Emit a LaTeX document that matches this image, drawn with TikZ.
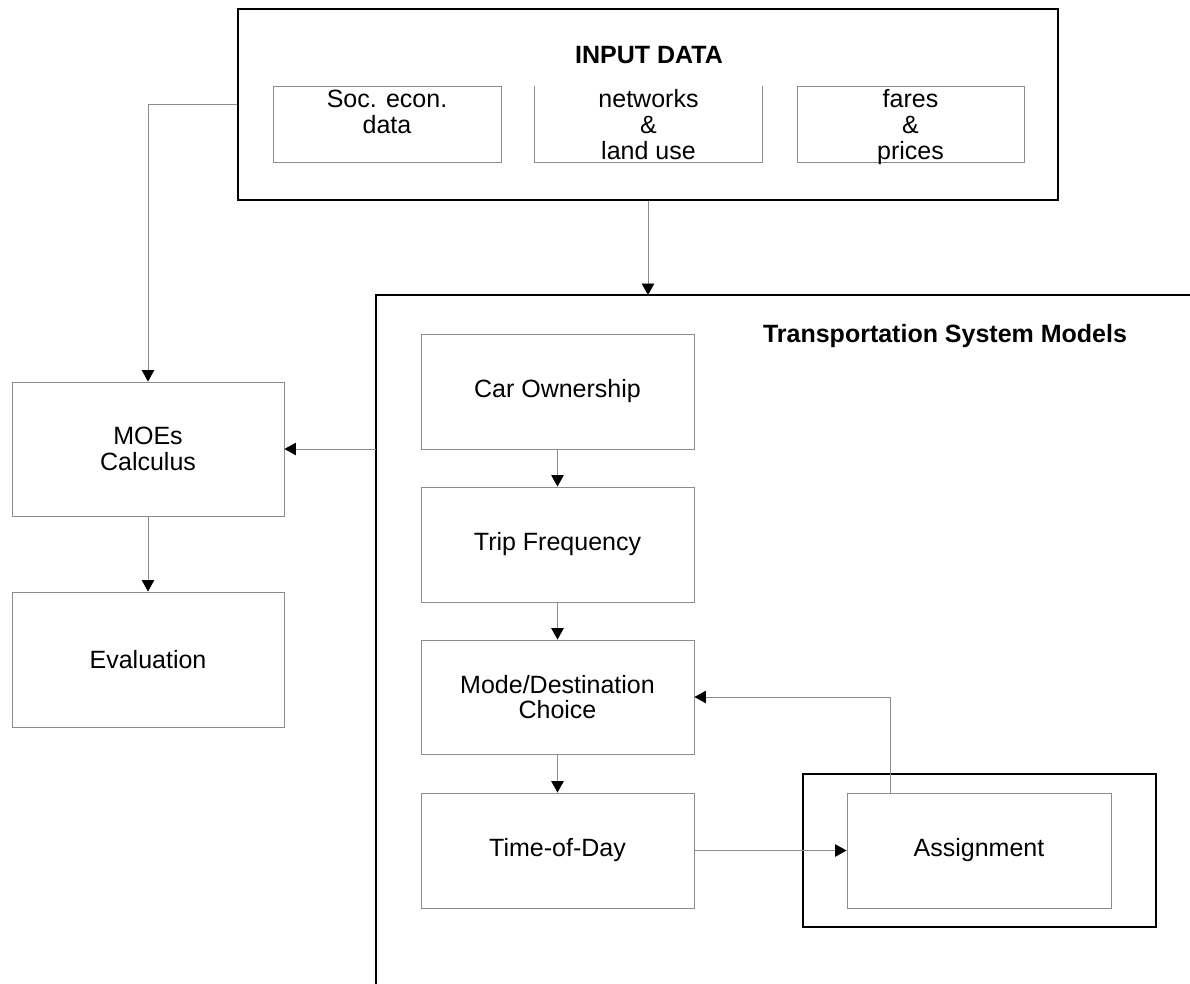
\documentclass[tikz,border=0pt]{standalone}
\usepackage{fontspec}
\setmainfont{Liberation Sans}
\usetikzlibrary{arrows.meta,calc}
\definecolor{linegray}{gray}{0.55}
\tikzset{
  gbox/.style={draw=linegray, line width=0.9pt, inner sep=0pt, align=center,
    font=\fontsize{25}{25.5}\selectfont},
  bbox/.style={draw=black, line width=1.3pt, inner sep=0pt},
  txt/.style={inner sep=0pt, align=center, font=\fontsize{25}{26}\selectfont},
  ttl/.style={inner sep=0pt, font=\fontsize{25}{25}\selectfont\bfseries},
  conn/.style={draw=linegray, line width=0.9pt,
    -{Triangle[length=11.5pt,width=12.5pt,color=black]}},
}
\begin{document}
\begin{tikzpicture}[x=1pt,y=-1pt]
\useasboundingbox (0,0) rectangle (1190,983);
% INPUT DATA group
\node[bbox, minimum width=820, minimum height=191] (input) at (648,104.5) {};
\node[ttl, anchor=base] (inputttl) at (649,63) {INPUT DATA};
\node[gbox, minimum width=228, minimum height=76] (soc) at (387,124) {};
\node[txt, anchor=north] (soct) at (387,90) {Soc. econ.\\data};
\node[inner sep=0pt, minimum width=227, minimum height=76] (net) at (648.5,124) {};
\draw[draw=linegray, line width=0.9pt] (net.north west) -- (net.south west) -- (net.south east) -- (net.north east);
\node[txt, anchor=north] (nett) at (648.5,89) {networks\\\&\\land use};
\node[gbox, minimum width=227, minimum height=76] (fares) at (910.5,124) {};
\node[txt, anchor=north] (farest) at (910.5,89) {fares\\\&\\prices};
% Transportation system models frame
\coordinate (tsmNW) at (376,295);
\draw[black, line width=1.3pt] (1192,295) -- (tsmNW) -- (376,986);
\node[ttl, anchor=base] (tsmttl) at (945,342) {Transportation System Models};
\node[gbox, minimum width=273, minimum height=115] (car) at (557.5,391.5) {Car Ownership};
\node[gbox, minimum width=273, minimum height=115] (trip) at (557.5,544.5) {Trip Frequency};
\node[gbox, minimum width=273, minimum height=114] (mode) at (557.5,697) {Mode/Destination\\Choice};
\node[gbox, minimum width=273, minimum height=115] (tod) at (557.5,850.5) {Time-of-Day};
\node[bbox, minimum width=353, minimum height=153] (assignout) at (979.5,850.5) {};
\node[gbox, minimum width=264, minimum height=115] (assign) at (979,850.5) {Assignment};
% left column
\node[gbox, minimum width=272, minimum height=134] (moes) at (148,449) {MOEs\\Calculus};
\node[gbox, minimum width=272, minimum height=135] (eval) at (148,659.5) {Evaluation};
% connectors
\draw[conn] (input.west) -- (input.west -| moes.north) -- (moes.north);
\draw[conn] (input.south) -- (input.south |- tsmNW);
\draw[conn] (tsmNW |- moes.east) -- (moes.east);
\draw[conn] (moes.south) -- (eval.north);
\draw[conn] (car.south) -- (trip.north);
\draw[conn] (trip.south) -- (mode.north);
\draw[conn] (mode.south) -- (tod.north);
\draw[conn] (tod.east) -- (assign.west);
\draw[conn] ($(assign.north west)+(44,0)$) |- (mode.east);
\end{tikzpicture}
\end{document}
